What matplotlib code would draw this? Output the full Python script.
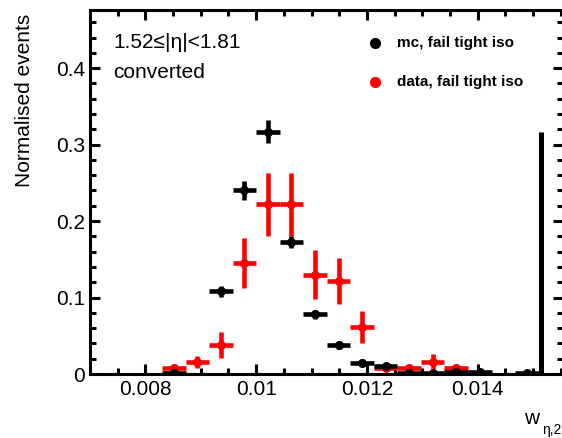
import matplotlib
matplotlib.use("Agg")
import matplotlib.pyplot as plt
import numpy as np

plt.rcParams['font.family'] = ['Liberation Sans', 'DejaVu Sans']

# ---- data ----
bin_centers = [0.0085125, 0.0089375, 0.0093625, 0.0097875, 0.0102125, 0.0106375,
               0.0110625, 0.0114875, 0.0119125, 0.0123375, 0.0127625, 0.0131875,
               0.0136125, 0.0140375, 0.0144625, 0.0148875]
bin_halfwidth = 0.0002125

mc_values = [0.001, np.nan, 0.108, 0.240, 0.317, 0.173, 0.078, 0.038, 0.015, 0.010,
             0.001, 0.001, 0.002, 0.002, np.nan, 0.001]
mc_errors = [0.002, np.nan, 0.007, 0.013, 0.015, 0.008, 0.006, 0.005, 0.004, 0.003,
             0.002, 0.002, 0.002, 0.004, np.nan, 0.002]

data_values = [0.008, 0.016, 0.038, 0.145, 0.222, 0.222, 0.130, 0.122, 0.061, 0.0085,
               0.0075, 0.016, 0.0085, np.nan, np.nan, np.nan]
data_errors = [0.005, 0.008, 0.017, 0.033, 0.041, 0.041, 0.032, 0.030, 0.021, 0.004,
               0.004, 0.010, 0.004, np.nan, np.nan, np.nan]

cut_x = 0.01515
cut_top = 0.316

mc_label = "mc, fail tight iso"
data_label = "data, fail tight iso"
region_text = ["1.52\u2264|\u03b7|<1.81", "converted"]
x_ticks = [0.008, 0.010, 0.012, 0.014]
x_ticklabels = ["0.008", "0.01", "0.012", "0.014"]
y_ticks = [0, 0.1, 0.2, 0.3, 0.4]
y_ticklabels = ["0", "0.1", "0.2", "0.3", "0.4"]

# ---- figure ----
W, H = 562, 438
fig = plt.figure(figsize=(W / 100, H / 100), dpi=100)
ax = fig.add_axes([90 / W, (H - 374) / H, (563 - 90) / W, (374 - 10) / H])

lw = 3.3
x = np.array(bin_centers)
ax.errorbar(x, data_values, xerr=bin_halfwidth, yerr=data_errors, fmt='o', color='#ff0000',
            ms=5.5, elinewidth=lw, capsize=0, zorder=3)
ax.errorbar(x, mc_values, xerr=bin_halfwidth, yerr=mc_errors, fmt='o', color='black',
            ms=5.5, elinewidth=lw, capsize=0, zorder=4)
ax.vlines([cut_x], 0, cut_top, color='black', lw=3.6, zorder=5)

ax.set_xlim(0.007, 0.01554)
ax.set_ylim(0, 0.476)
ax.set_xticks(x_ticks)
ax.set_xticklabels(x_ticklabels)
ax.set_yticks(y_ticks)
ax.set_yticklabels(y_ticklabels)
ax.set_xticks(np.arange(0.0075, 0.01551, 0.0005), minor=True)
ax.set_yticks(np.arange(0, 0.4761, 0.02), minor=True)
ax.tick_params(which='both', direction='in', top=True, right=True, width=2.2,
               labelsize=15, colors='black')
ax.tick_params(which='major', length=7.5)
ax.tick_params(which='minor', length=4)
ax.tick_params(axis='x', pad=4)
ax.tick_params(axis='y', pad=3.5)
for s in ax.spines.values():
    s.set_linewidth(2.2)

# region text
ax.text(113 / W, (H - 43) / H, region_text[0], transform=fig.transFigure, fontsize=15,
        ha='left', va='center')
ax.text(113 / W, (H - 72) / H, region_text[1], transform=fig.transFigure, fontsize=15,
        ha='left', va='center')

# legend (manual)
for yy, col, lab in [(43, 'black', mc_label), (82, '#ff0000', data_label)]:
    fig.add_artist(plt.Line2D([375 / W], [(H - yy) / H], marker='o', color=col, ms=7,
                              transform=fig.transFigure, linestyle='none'))
    fig.text(397 / W, (H - yy) / H, lab, fontsize=11, fontweight='bold',
             ha='left', va='center')

# axis labels
fig.text(25 / W, (H - 14) / H, "Normalised events", rotation=90, fontsize=15,
         ha='center', va='top')
fig.text(539 / W, (H - 418) / H, "w", fontsize=15, ha='right', va='center')
fig.text(542 / W, (H - 430) / H, "\u03b7,2", fontsize=10, ha='left', va='center')

fig.savefig("out.png", dpi=100)
